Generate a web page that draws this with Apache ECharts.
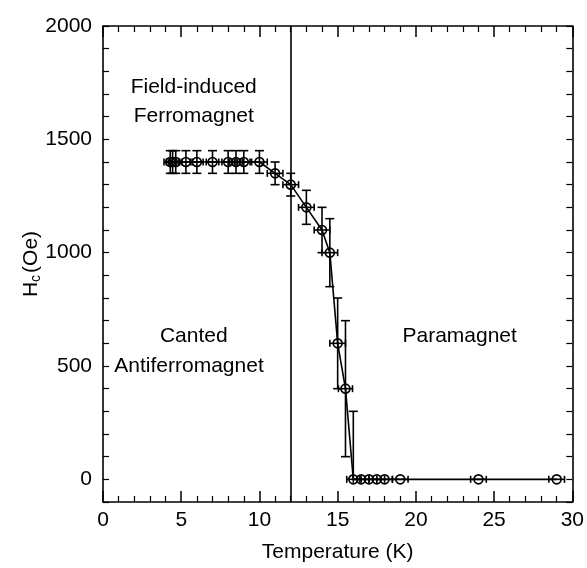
<!DOCTYPE html>
<html>
<head>
<meta charset="utf-8">
<script src="https://cdn.jsdelivr.net/npm/echarts@6/dist/echarts.min.js"></script>
<style>html,body{margin:0;padding:0;background:#fff}#c{width:587px;height:568px}</style>
</head>
<body>
<div id="c"></div>
<script>
// Temperature (K)
const temps   = [4.3, 4.45, 4.65, 5.3, 6, 7, 8, 8.5, 9, 10, 11, 12, 13, 14, 14.5, 15, 15.5, 16, 16.5, 17, 17.5, 18, 19, 24, 29];
// Coercive field Hc (Oe)
const hc      = [1400, 1400, 1400, 1400, 1400, 1400, 1400, 1400, 1400, 1400, 1350, 1300, 1200, 1100, 1000, 600, 400, 0, 0, 0, 0, 0, 0, 0, 0];
// horizontal error (K)
const tempErr = [0.4, 0.4, 0.4, 0.4, 0.4, 0.4, 0.4, 0.4, 0.4, 0.5, 0.5, 0.5, 0.5, 0.5, 0.5, 0.5, 0.45, 0.42, 0.5, 0.5, 0.5, 0.5, 0.5, 0.5, 0.5];
// vertical error, low / high (Oe)
const hcErrLow  = [50, 50, 50, 50, 50, 50, 50, 50, 50, 50, 50, 50, 75, 100, 150, 200, 300, 0, 0, 0, 0, 0, 0, 0, 0];
const hcErrHigh = [50, 50, 50, 50, 50, 50, 50, 50, 50, 50, 50, 50, 75, 100, 150, 200, 300, 300, 0, 0, 0, 0, 0, 0, 0];
// phase boundary
const boundaryT = 12;
// region labels
const labelNames = ['Field-induced', 'Ferromagnet', 'Canted', 'Antiferromagnet', 'Paramagnet'];
const labelT     = [5.8, 5.8, 5.8, 5.5, 22.8];
const labelH     = [1730, 1600, 630, 500, 630];
const xTicks = {min: 0, max: 30, interval: 5};
const yTicks = {min: -100, max: 2000, interval: 100, labelStep: 500};

const FONT = 'Liberation Sans, Arial, sans-serif';
const chart = echarts.init(document.getElementById('c'));

const pts = temps.map((t, i) => [t, hc[i], tempErr[i], hcErrLow[i], hcErrHigh[i]]);

function renderErr(params, api) {
  const t = api.value(0), h = api.value(1), te = api.value(2), lo = api.value(3), hi = api.value(4);
  const st = {stroke: '#000', lineWidth: 1.6};
  const children = [];
  const c = api.coord([t, h]);
  if (lo > 0 || hi > 0) {
    const pLo = api.coord([t, h - lo]);
    const pHi = api.coord([t, h + hi]);
    children.push({type: 'line', shape: {x1: c[0], y1: pLo[1], x2: c[0], y2: pHi[1]}, style: st});
    if (hi > 0) children.push({type: 'line', shape: {x1: c[0] - 4.5, y1: pHi[1], x2: c[0] + 4.5, y2: pHi[1]}, style: st});
    if (lo > 0) children.push({type: 'line', shape: {x1: c[0] - 4.5, y1: pLo[1], x2: c[0] + 4.5, y2: pLo[1]}, style: st});
  }
  if (te > 0) {
    const pL = api.coord([t - te, h]);
    const pR = api.coord([t + te, h]);
    children.push({type: 'line', shape: {x1: pL[0], y1: c[1], x2: pR[0], y2: c[1]}, style: st});
    children.push({type: 'line', shape: {x1: pL[0], y1: c[1] - 3.5, x2: pL[0], y2: c[1] + 3.5}, style: st});
    children.push({type: 'line', shape: {x1: pR[0], y1: c[1] - 3.5, x2: pR[0], y2: c[1] + 3.5}, style: st});
  }
  return {type: 'group', children: children};
}

function renderLabel(params, api) {
  const c = api.coord([api.value(0), api.value(1)]);
  return {
    type: 'text',
    style: {
      x: c[0], y: c[1], text: labelNames[params.dataIndex],
      fill: '#000', font: '21px ' + FONT, align: 'center', verticalAlign: 'middle'
    }
  };
}

const axisLineStyle = {lineStyle: {color: '#000', width: 1.6}};

chart.setOption({
  animation: false,
  backgroundColor: '#fff',
  grid: {left: 103, right: 10, top: 26, bottom: 66, containLabel: false},
  xAxis: [
    {
      type: 'value', min: xTicks.min, max: xTicks.max, interval: xTicks.interval, position: 'bottom',
      axisLine: Object.assign({onZero: false}, axisLineStyle),
      axisTick: {inside: true, length: 11, lineStyle: {color: '#000', width: 1.5}},
      minorTick: {show: true, splitNumber: 5, length: 6, lineStyle: {color: '#000', width: 1.2}},
      splitLine: {show: false},
      axisLabel: {color: '#000', fontSize: 21, fontFamily: FONT, margin: 8},
      name: 'Temperature (K)', nameLocation: 'middle', nameGap: 40, nameMoveOverlap: false,
      nameTextStyle: {color: '#000', fontSize: 21, fontFamily: FONT}
    },
    {
      type: 'value', min: xTicks.min, max: xTicks.max, interval: xTicks.interval, position: 'top',
      axisLine: Object.assign({onZero: false}, axisLineStyle),
      axisTick: {inside: true, length: 11, lineStyle: {color: '#000', width: 1.5}},
      minorTick: {show: true, splitNumber: 5, length: 6, lineStyle: {color: '#000', width: 1.2}},
      splitLine: {show: false}, axisLabel: {show: false}
    }
  ],
  yAxis: [
    {
      type: 'value', min: yTicks.min, max: yTicks.max, interval: yTicks.interval, position: 'left',
      axisLine: Object.assign({show: true, onZero: false}, axisLineStyle),
      axisTick: {show: true, inside: true, length: 6, lineStyle: {color: '#000', width: 1.2}},
      splitLine: {show: false},
      axisLabel: {color: '#000', fontSize: 21, fontFamily: FONT, margin: 11,
        formatter: v => (v % yTicks.labelStep === 0 ? String(v) : '')},
      name: '{a|H}{b|c}{a|(Oe)}', nameLocation: 'middle', nameGap: 60, nameMoveOverlap: false,
      nameTextStyle: {
        color: '#000', fontFamily: FONT,
        rich: {
          a: {fontSize: 21, fontFamily: FONT, color: '#000', lineHeight: 24},
          b: {fontSize: 14, fontFamily: FONT, color: '#000', verticalAlign: 'bottom', lineHeight: 16, padding: [9, 2, 0, 0]}
        }
      }
    },
    {
      type: 'value', min: yTicks.min, max: yTicks.max, interval: yTicks.interval, position: 'right',
      axisLine: Object.assign({show: true, onZero: false}, axisLineStyle),
      axisTick: {show: true, inside: true, length: 6, lineStyle: {color: '#000', width: 1.2}},
      splitLine: {show: false}, axisLabel: {show: false}
    }
  ],
  series: [
    {
      type: 'custom', name: 'errors', renderItem: renderErr, data: pts, clip: true,
      encode: {x: 0, y: 1}, z: 2
    },
    {
      type: 'line', name: 'Hc', data: pts.map(p => [p[0], p[1]]), z: 3,
      symbol: 'circle', symbolSize: 9, showAllSymbol: true,
      lineStyle: {color: '#000', width: 1.6},
      itemStyle: {color: 'rgba(0,0,0,0)', borderColor: '#000', borderWidth: 1.6},
      markLine: {
        silent: true, symbol: ['none', 'none'], label: {show: false},
        lineStyle: {color: '#000', width: 1.6, type: 'solid'},
        data: [{xAxis: boundaryT}]
      }
    },
    {
      type: 'custom', name: 'labels', renderItem: renderLabel, z: 4, silent: true,
      data: labelT.map((t, i) => [t, labelH[i]]), encode: {x: 0, y: 1}
    }
  ]
});
</script>
</body>
</html>
